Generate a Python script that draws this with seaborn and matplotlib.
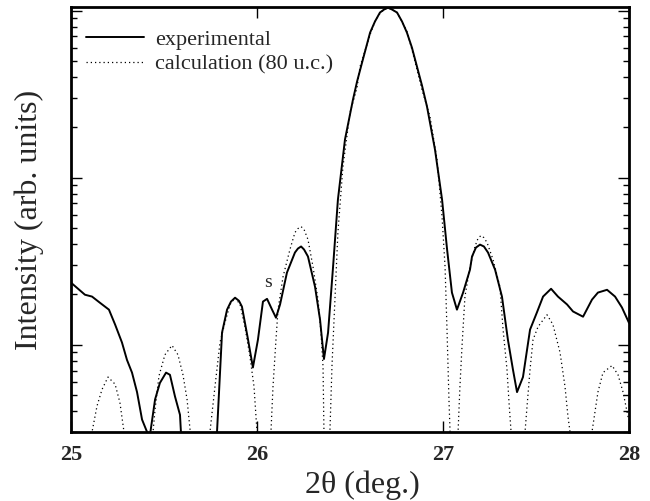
import numpy as np
import pandas as pd
import matplotlib
matplotlib.use("Agg")
import matplotlib.pyplot as plt
import matplotlib.ticker as mticker
import seaborn as sns

# ---- data (2theta in deg., intensity in arb. units) ----
exp_theta = [25.000, 25.075, 25.113, 25.156, 25.204, 25.237, 25.274, 25.301, 25.328, 25.355,
             25.382, 25.409, 25.425, 25.452, 25.478, 25.511, 25.532, 25.559, 25.586, 25.591,
             25.694, 25.785, 25.812, 25.839, 25.860, 25.882, 25.903, 25.919, 25.952, 25.978,
             26.005, 26.032, 26.054, 26.081, 26.102, 26.124, 26.161, 26.204, 26.220, 26.237,
             26.253, 26.274, 26.312, 26.339, 26.360, 26.382, 26.409, 26.435, 26.473, 26.516,
             26.538, 26.565, 26.608, 26.634, 26.661, 26.683, 26.704, 26.726, 26.753, 26.780,
             26.806, 26.833, 26.860, 26.887, 26.914, 26.957, 26.995, 27.022, 27.048, 27.075,
             27.108, 27.145, 27.156, 27.177, 27.199, 27.220, 27.242, 27.280, 27.317, 27.349,
             27.376, 27.398, 27.430, 27.468, 27.505, 27.538, 27.581, 27.618, 27.667, 27.699,
             27.753, 27.801, 27.833, 27.882, 27.925, 27.962, 28.000]
exp_int = [23.5, 19.9, 19.4, 17.8, 16.2, 13.2, 10.3, 8.1, 6.8, 5.2,
           3.56, 3.0, 2.9, 4.7, 5.9, 6.8, 6.6, 4.9, 3.8, 3.0,
           1.0, 3.0, 11.8, 16.2, 18.1, 19.1, 18.3, 16.9, 10.7, 7.3,
           10.7, 18.1, 18.8, 16.2, 14.5, 17.4, 27.0, 35.6, 37.6, 38.7,
           37.1, 33.7, 22.2, 14.1, 8.2, 11.8, 29.3, 73.8, 169, 293,
           376, 489, 738, 859, 973, 1014, 1040, 1014, 973, 859,
           738, 600, 462, 356, 266, 147, 73.8, 37.1, 20.5, 16.2,
           20.5, 28.1, 33.7, 38.1, 39.7, 38.7, 35.6, 28.1, 19.4, 10.7,
           7.1, 5.2, 6.4, 12.3, 15.6, 19.4, 21.6, 19.4, 17.4, 15.8,
           14.7, 18.6, 20.5, 21.3, 19.4, 16.7, 13.5]

calc_theta = [25.000, 25.113, 25.140, 25.167, 25.199, 25.237, 25.263, 25.285, 25.350,
              25.441, 25.452, 25.473, 25.505, 25.543, 25.575, 25.602, 25.624, 25.640, 25.680,
              25.747, 25.774, 25.801, 25.828, 25.855, 25.882, 25.909, 25.935, 25.962, 25.984, 26.000, 26.060,
              26.075, 26.086, 26.102, 26.113, 26.140, 26.177, 26.204, 26.220, 26.237, 26.253, 26.274, 26.301,
              26.328, 26.344, 26.355, 26.360, 26.375,
              26.392, 26.403, 26.419, 26.435, 26.462, 26.500, 26.538, 26.554, 26.608, 26.634, 26.661,
              26.683, 26.704, 26.726, 26.753, 26.780, 26.806, 26.833, 26.860, 26.887, 26.930, 26.968,
              26.995, 27.011, 27.022, 27.032, 27.038, 27.043,
              27.081, 27.091, 27.102, 27.118, 27.145, 27.172, 27.188, 27.204, 27.220, 27.237, 27.269, 27.306,
              27.323, 27.344, 27.355, 27.366, 27.400,
              27.441, 27.452, 27.468, 27.484, 27.511, 27.559, 27.591, 27.629, 27.656, 27.672, 27.683, 27.720,
              27.801, 27.833, 27.860, 27.909, 27.941, 27.968, 27.995, 28.000]
calc_int = [0.3, 3.0, 4.3, 5.4, 6.4, 5.8, 4.5, 3.0, 0.3,
            3.0, 4.1, 6.5, 8.7, 9.9, 8.7, 6.6, 4.7, 3.1, 0.3,
            3.0, 5.6, 10.3, 13.6, 17.4, 19.1, 17.4, 12.8, 8.5, 5.6, 3.0, 0.3,
            3.0, 5.6, 10.7, 16.2, 25.5, 37.1, 46.9, 49.5, 50.9, 48.9, 42.6, 29.3,
            18.6, 11.8, 7.4, 3.0, 0.3,
            3.0, 7.4, 18.6, 46.9, 116, 245, 346, 462, 718, 859, 960,
            1014, 1040, 1014, 973, 859, 750, 583, 444, 336, 232, 128,
            58, 29.3, 11.8, 4.7, 3.0, 0.3,
            3.0, 5.6, 9.7, 19.4, 29.3, 38.7, 43.2, 45.0, 43.7, 40.8, 32.3, 22.2,
            12.3, 7.1, 4.5, 3.0, 0.3,
            3.0, 4.3, 7.1, 10.7, 12.8, 15.1, 13.2, 9.0, 5.6, 3.7, 3.0, 0.3,
            3.0, 5.2, 6.8, 7.5, 6.6, 5.2, 3.7, 3.6]

series_labels = ["experimental", "calculation (80 u.c.)"]
x_ticks = [25, 26, 27, 28]
x_label = "2\u03b8 (deg.)"
y_label = "Intensity (arb. units)"
annot_text = "s"
annot_pos = (26.059, 23.5)

# ---- styling ----
sns.set_style("ticks")
plt.rcParams["font.family"] = ["Liberation Serif", "DejaVu Serif"]

fig = plt.figure(figsize=(6.5, 5.01), dpi=100)
ax = fig.add_axes([71 / 650, 1 - 432 / 501, (629 - 71) / 650, (432 - 7) / 501])

df_exp = pd.DataFrame({"theta": exp_theta, "I": exp_int})
df_calc = pd.DataFrame({"theta": calc_theta, "I": calc_int})

sns.lineplot(data=df_exp, x="theta", y="I", ax=ax, color="black", linewidth=1.4,
             label=series_labels[0], sort=False, estimator=None)
sns.lineplot(data=df_calc, x="theta", y="I", ax=ax, color="black", linewidth=0.9,
             linestyle=(0, (1, 2.4)), label=series_labels[1], sort=False, estimator=None)

ax.set_yscale("log")
ax.set_xlim(25, 28)
ax.set_ylim(3.0, 1050)
ax.set_xticks(x_ticks)
ax.set_xticklabels([str(t) for t in x_ticks], fontweight="bold", fontsize=16)
ax.xaxis.set_minor_locator(mticker.NullLocator())
ax.yaxis.set_major_locator(mticker.LogLocator(base=10))
ax.yaxis.set_minor_locator(mticker.LogLocator(base=10, subs=np.arange(2, 10)))
ax.yaxis.set_major_formatter(mticker.NullFormatter())
ax.yaxis.set_minor_formatter(mticker.NullFormatter())

ax.tick_params(axis="both", which="both", direction="in", top=True, right=True,
               color="black", width=1.0)
ax.tick_params(axis="both", which="major", length=8)
ax.tick_params(axis="y", which="minor", length=4)
ax.tick_params(axis="x", which="major", pad=9)

for sp in ax.spines.values():
    sp.set_linewidth(2.0)
    sp.set_color("black")

ax.set_xlabel(x_label, fontsize=23, labelpad=4, x=(362 - 71) / 558)
ax.set_ylabel(y_label, fontsize=23, labelpad=16)

ax.text(annot_pos[0], annot_pos[1], annot_text, fontsize=14, ha="center", va="center")

leg = ax.legend(loc="upper left", bbox_to_anchor=(15 / 558, 1 - 22 / 425), frameon=False,
                fontsize=16, handlelength=2.6, handletextpad=0.5, labelspacing=0.2,
                borderaxespad=0, borderpad=0)

fig.savefig("out.png", dpi=100)
